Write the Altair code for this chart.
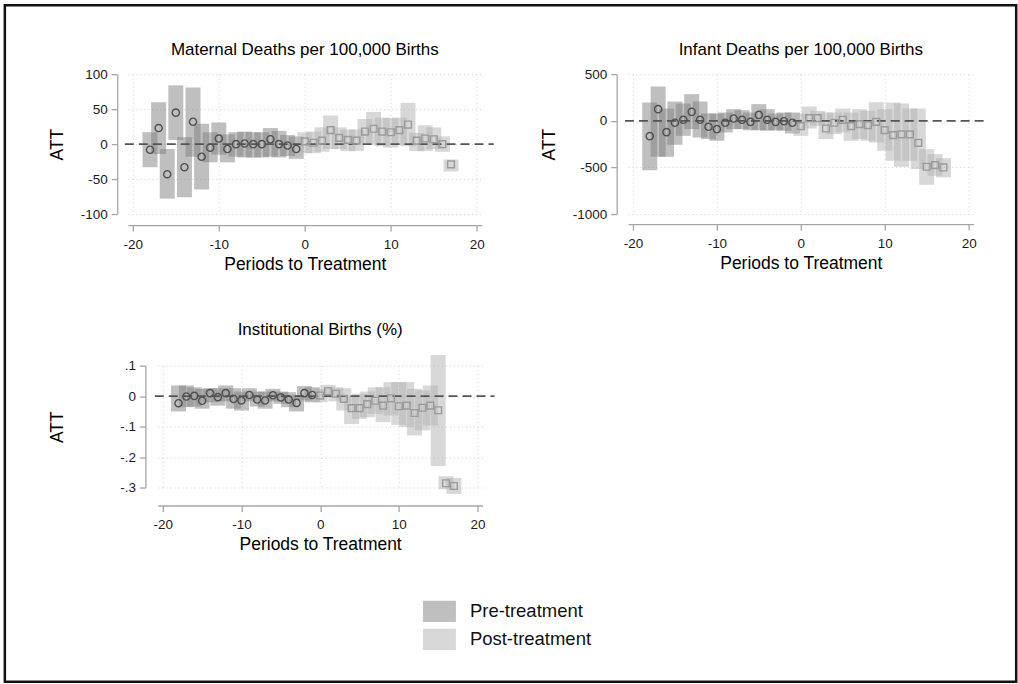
import altair as alt
import pandas as pd

# ---------------- data ----------------
PERIODS = [-18, -17, -16, -15, -14, -13, -12, -11, -10, -9, -8, -7, -6, -5, -4, -3, -2, -1,
           0, 1, 2, 3, 4, 5, 6, 7, 8, 9, 10, 11, 12, 13, 14, 15, 16, 17]
PHASE = ["Pre-treatment"] * 18 + ["Post-treatment"] * 18

MAT_ATT = [-8, 23, -43, 45, -33, 32, -18, -5, 8, -7, 0, 1, 0, 0, 7, 0, -2, -7,
           4, 2, 5, 20, 9, 6, 5, 18, 22, 18, 17, 20, 28, 5, 8, 7, 0, -29]
MAT_LO = [-33, -14, -78, 6, -76, -18, -65, -26, -15, -26, -18, -19, -19, -19, -18, -19, -17, -21,
          -13, -13, -11, -7, -7, -10, -10, 1, -1, -3, -5, -1, -3, -10, -10, -7, -11, -39]
MAT_HI = [17, 60, -7, 84, 10, 81, 29, 17, 31, 14, 17, 18, 17, 17, 23, 19, 13, 11,
          17, 18, 24, 41, 24, 21, 21, 36, 46, 38, 37, 38, 59, 16, 27, 24, 11, -22]

INF_ATT = [-164, 125, -121, -21, 11, 96, 11, -64, -89, -21, 25, 11, -11, 64, 11, -11, -4, -21,
           -57, 29, 29, -82, -21, 11, -57, -36, -46, -11, -100, -154, -146, -146, -236, -493, -475, -500]
INF_LO = [-529, -386, -386, -257, -161, -89, -179, -196, -214, -125, -89, -89, -100, -100, -107, -100, -107, -136,
          -161, -82, -54, -196, -143, -125, -214, -196, -214, -232, -321, -429, -493, -429, -518, -686, -589, -607]
INF_HI = [196, 368, 132, 207, 186, 286, 207, 79, 79, 89, 125, 114, 89, 179, 125, 79, 89, 89,
          79, 154, 107, 89, 89, 132, 89, 125, 107, 200, 125, 196, 186, 132, 132, -304, -357, -400]

INS_ATT = [-0.023, -0.001, 0.001, -0.015, 0.010, -0.003, 0.010, -0.009, -0.014, 0.004, -0.011, -0.014,
           0.003, -0.004, -0.011, -0.022, 0.010, 0.004,
           0.002, 0.016, 0.008, -0.009, -0.039, -0.039, -0.026, -0.015, -0.031, -0.007, -0.033, -0.031,
           -0.055, -0.038, -0.031, -0.046, -0.285, -0.294]
INS_LO = [-0.050, -0.036, -0.034, -0.041, -0.020, -0.031, -0.017, -0.041, -0.047, -0.017, -0.034, -0.041,
          -0.017, -0.025, -0.036, -0.050, -0.014, -0.020,
          -0.020, -0.003, -0.017, -0.047, -0.091, -0.074, -0.069, -0.058, -0.085, -0.063, -0.094, -0.101,
          -0.129, -0.112, -0.096, -0.229, -0.305, -0.320]
INS_HI = [0.035, 0.035, 0.029, 0.024, 0.026, 0.026, 0.035, 0.026, 0.015, 0.026, 0.015, 0.015,
          0.024, 0.015, 0.013, 0.004, 0.033, 0.029,
          0.024, 0.037, 0.029, 0.026, 0.002, 0.008, 0.015, 0.029, 0.029, 0.046, 0.046, 0.046,
          0.024, 0.019, 0.035, 0.135, -0.262, -0.268]

X_TICKS = [-20, -10, 0, 10, 20]
LEGEND_DOMAIN = ["Pre-treatment", "Post-treatment"]
FONT = "Liberation Sans"
INT_LABELS = "replace(format(datum.value, 'd'), '−', '-')"
DEC_LABELS = "datum.value == 0 ? '0' : replace(replace(format(datum.value, '.1f'), '−', '-'), '0.', '.')"

legend = alt.Legend(
    orient="none", legendX=295.4, legendY=521.2, direction="vertical", title=None,
    symbolType="M-1,-0.64H1V0.64H-1Z", symbolSize=1089, symbolOpacity=0.5,
    symbolStrokeWidth=0, labelFontSize=18.5, labelFont=FONT, labelColor="#111",
    labelOffset=14, rowPadding=0, padding=0,
)
color = alt.Color("phase:N", scale=alt.Scale(domain=LEGEND_DOMAIN, range=["#7f7f7f", "#b2b2b2"]),
                  legend=legend)


def panel(title, att, lo, hi, ydom, yvals, width, height, yoff, xoff, ytp, toff, label_expr):
    df = pd.DataFrame({"t": PERIODS, "att": att, "lo": lo, "hi": hi, "phase": PHASE})
    base = alt.Chart(df)
    xs = alt.Scale(domain=[-20, 20], nice=False, zero=False)
    ys = alt.Scale(domain=ydom, nice=False, zero=False)
    xaxis = alt.Axis(values=X_TICKS, offset=xoff, grid=True, labelExpr=INT_LABELS, labelOverlap=False)
    yaxis = alt.Axis(values=yvals, offset=yoff, titlePadding=ytp, grid=True, labelExpr=label_expr,
                     labelOverlap=False, tickCount=len(yvals))
    X = lambda f: alt.X(f, scale=xs, axis=xaxis, title="Periods to Treatment")
    Y = lambda f: alt.Y(f, scale=ys, axis=yaxis, title="ATT")
    bars = base.mark_bar(size=15, opacity=0.5).encode(
        x=X("t:Q"), y=Y("lo:Q"), y2="hi:Q", color=color,
    )
    zero = alt.Chart(pd.DataFrame({"z": [0]})).mark_rule(
        color="#555555", strokeWidth=1.7, strokeDash=[9, 5]
    ).encode(y=Y("z:Q"), x=alt.value(-3), x2=alt.value(width + 12))
    circ = base.transform_filter("datum.t < 0").mark_point(
        shape="circle", size=52, filled=False, stroke="#505050", strokeWidth=1.4, opacity=1
    ).encode(x=X("t:Q"), y=Y("att:Q"))
    sq = base.transform_filter("datum.t >= 0").mark_point(
        shape="square", size=46, filled=False, stroke="#9a9a9a", strokeWidth=1.4, opacity=1
    ).encode(x=X("t:Q"), y=Y("att:Q"))
    return alt.layer(bars, zero, circ, sq).properties(
        width=width, height=height,
        title=alt.TitleParams(text=title, fontSize=17, fontWeight="normal", font=FONT,
                              color="#000", anchor="middle", frame="group", offset=toff),
    )


p1 = panel("Maternal Deaths per 100,000 Births", MAT_ATT, MAT_LO, MAT_HI,
           [-100, 100], [-100, -50, 0, 50, 100], 354.3, 140, 10.6, 11, 14, 8, INT_LABELS)
p2 = panel("Infant Deaths per 100,000 Births", INF_ATT, INF_LO, INF_HI,
           [-1000, 500], [-1000, -500, 0, 500], 346, 140, 11.3, 10, 13.5, 8, INT_LABELS)
p3 = panel("Institutional Births (%)", INS_ATT, INS_LO, INS_HI,
           [-0.3, 0.1], [-0.3, -0.2, -0.1, 0, 0.1], 325, 122.3, 12.4, 17.7, 53.5, 15.8, DEC_LABELS)

# spacer that also carries the outer frame
frame = alt.Chart(pd.DataFrame({"f": [0]})).mark_rect(
    fill="white", fillOpacity=0, stroke="#111111", strokeWidth=2.5
).encode(x=alt.value(-123.1), x2=alt.value(889.2), y=alt.value(-360.8), y2=alt.value(316.5)).properties(
    width=29.4, height=10)

row1 = alt.hconcat(p1, p2, spacing=145.6, bounds="flush")
row2 = alt.hconcat(frame, p3, spacing=0, bounds="flush")

chart = alt.vconcat(row1, row2, spacing=291.7, bounds="flush").properties(
    padding={"left": 2.95, "top": 2.95, "right": 0, "bottom": 0},
    background="white",
).configure_view(strokeWidth=0).configure_axis(
    domainColor="#a6a6a6", domainWidth=1.3, tickColor="#a6a6a6", tickWidth=1.3, tickSize=6,
    gridColor="#cfcfcf", gridDash=[1, 3], gridWidth=1, labelOverlap=False,
    labelFont=FONT, labelFontSize=13.5, labelColor="#1a1a1a",
    titleFont=FONT, titleFontSize=17.5, titleFontWeight="normal", titleColor="#000",
).configure_axisX(labelPadding=6, titlePadding=5).configure_axisY(labelPadding=4)

chart.save("out.html", embed_options={"renderer": "svg", "actions": False})
